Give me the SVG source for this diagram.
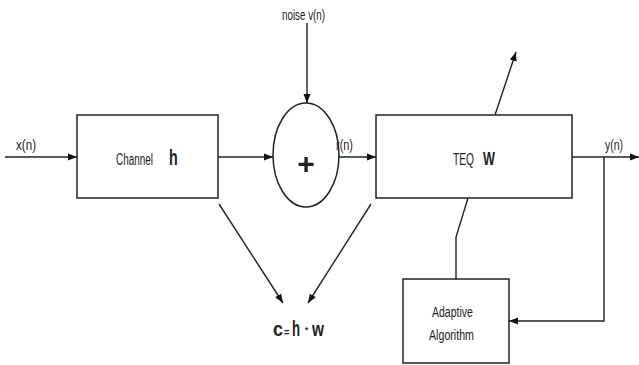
<svg xmlns="http://www.w3.org/2000/svg" width="639" height="365" viewBox="0 0 639 365">
<style>
.box{fill:#fff;stroke:#222;stroke-width:1.5}
.ln{fill:none;stroke:#222;stroke-width:1.4}
.t{font-family:"Liberation Sans",Arial,sans-serif;fill:#222}
.b{font-family:"Liberation Sans",Arial,sans-serif;fill:#222;font-weight:bold}
</style>
<defs>
<marker id="ah" markerUnits="userSpaceOnUse" markerWidth="10" markerHeight="8" refX="9" refY="4" orient="auto"><path d="M0,0.5 L9,4 L0,7.5 z" fill="#111"/></marker>
</defs>
<rect width="639" height="365" fill="#fff"/>
<g id="connectors">
<line class="ln" x1="5" y1="157" x2="77" y2="157" marker-end="url(#ah)"/>
<line class="ln" x1="218" y1="157" x2="273" y2="157" marker-end="url(#ah)"/>
<line class="ln" x1="307" y1="23" x2="307" y2="103" marker-end="url(#ah)"/>
<line class="ln" x1="339" y1="157" x2="376" y2="157" marker-end="url(#ah)"/>
<line class="ln" x1="495" y1="115" x2="516" y2="52" marker-end="url(#ah)"/>
<line class="ln" x1="572" y1="157" x2="639" y2="157" marker-end="url(#ah)"/>
<polyline class="ln" points="604,157 604,321 509,321" marker-end="url(#ah)"/>
<polyline class="ln" points="468,198 456,237 456,279"/>
<line class="ln" x1="219" y1="204" x2="283" y2="303" marker-end="url(#ah)"/>
<line class="ln" x1="371" y1="204" x2="308" y2="303" marker-end="url(#ah)"/>
</g>
<g id="channel">
<rect class="box" x="77" y="115" width="141" height="83"/>
<text class="t" font-size="16" transform="translate(116,165) scale(0.62,1)">Channel</text>
<text class="b" font-size="22" transform="translate(169,165) scale(0.65,1)">h</text>
</g>
<g id="adder">
<ellipse cx="306" cy="155" rx="33" ry="52" fill="#fff" stroke="#222" stroke-width="1.5"/>
<text class="b" x="306" y="174" font-size="30" text-anchor="middle">+</text>
</g>
<g id="teq">
<rect class="box" x="376" y="115" width="196" height="83"/>
<text class="t" font-size="16" transform="translate(453,165) scale(0.64,1)">TEQ</text>
<text class="b" font-size="18" transform="translate(483,165) scale(0.7,1)">W</text>
</g>
<g id="adaptive">
<rect class="box" x="403" y="279" width="106" height="84"/>
<text class="t" font-size="15" transform="translate(432,317) scale(0.7,1)">Adaptive</text>
<text class="t" font-size="15" transform="translate(429,340) scale(0.71,1)">Algorithm</text>
</g>
<g id="labels">
<text class="t" font-size="14" transform="translate(282,20) scale(0.7,1)">noise v(n)</text>
<text class="t" font-size="14" transform="translate(16,150) scale(0.83,1)">x(n)</text>
<text class="t" font-size="14" transform="translate(336,150) scale(0.78,1)">r(n)</text>
<text class="t" font-size="14" transform="translate(605,150) scale(0.75,1)">y(n)</text>
</g>
<g id="formula">
<text class="b" font-size="20" transform="translate(273,336) scale(0.9,1)">c</text>
<text class="b" font-size="11" transform="translate(284,336) scale(0.85,1)">=</text>
<text class="b" font-size="22" transform="translate(292,336) scale(0.6,1)">h</text>
<text class="b" font-size="9" transform="translate(305,333) scale(0.9,1)">*</text>
<text class="b" font-size="20" transform="translate(312,336) scale(0.77,1)">w</text>
</g>
</svg>
